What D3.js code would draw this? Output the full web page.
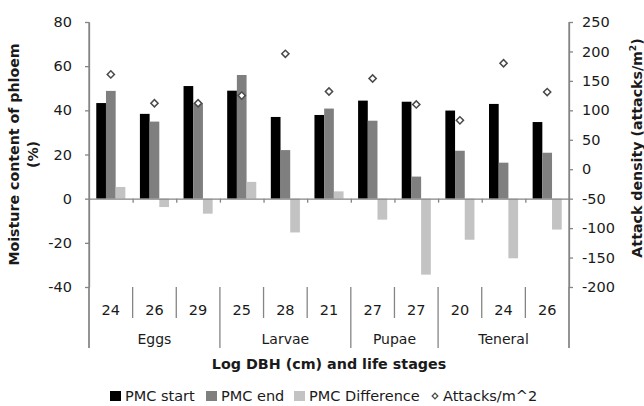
<!DOCTYPE html>
<html>
<head>
<meta charset="utf-8">
<script src="https://cdn.jsdelivr.net/npm/d3@7"></script>
<style>
  body { margin: 0; background: #fff; }
  svg { display: block; font-family: "DejaVu Sans", Verdana, sans-serif; }
</style>
</head>
<body>
<div id="chart"></div>
<script>
// ---------------- data ----------------
const dbh = ["24", "26", "29", "25", "28", "21", "27", "27", "20", "24", "26"];
const stages = ["Eggs", "Larvae", "Pupae", "Teneral"];
const stageSize = [3, 3, 2, 3];
const pmcStart = [43.3, 38.4, 51.0, 48.9, 37.0, 37.9, 44.4, 43.9, 39.9, 42.9, 34.7];
const pmcEnd   = [48.8, 34.9, 43.3, 56.0, 22.0, 40.8, 35.3, 10.0, 21.7, 16.3, 20.8];
const pmcDiff  = [5.3, -3.8, -6.8, 7.6, -15.3, 3.3, -9.5, -34.4, -18.6, -27.0, -14.0];
const attacks  = [161, 112, 112, 125, 196, 132, 154, 110, 83, 180, 131];
const leftTicks = [-40, -20, 0, 20, 40, 60, 80];
const rightTicks = [-200, -150, -100, -50, 0, 50, 100, 150, 200, 250];

const seriesNames = ["PMC start", "PMC end", "PMC Difference"];
const seriesColors = ["#000000", "#7f7f7f", "#c3c3c3"];
const seriesVals = [pmcStart, pmcEnd, pmcDiff];

//================ chart =================
const w = 644, h = 406;
const plotLeft = 89, plotRight = 569, plotTop = 22, plotBottom = 287;
const axisCol = "#858585", textCol = "#1a1a1a";

const svg = d3.select("#chart").append("svg")
  .attr("width", w).attr("height", h);

const x = d3.scaleBand().domain(d3.range(dbh.length)).range([plotLeft, plotRight]);
const xSub = d3.scaleBand().domain(d3.range(3)).range([0, x.bandwidth()]).paddingOuter(0.75);
const xLin = d3.scaleLinear().domain([0, dbh.length]).range([plotLeft, plotRight]);
const yL = d3.scaleLinear().domain([-40, 80]).range([plotBottom, plotTop]);
const yR = d3.scaleLinear().domain([-200, 250]).range([plotBottom, plotTop]);

// bars
seriesVals.forEach((vals, s) => {
  svg.append("g").selectAll("rect")
    .data(vals)
    .join("rect")
    .attr("x", (d, i) => x(i) + xSub(s))
    .attr("width", xSub.bandwidth())
    .attr("y", d => yL(Math.max(0, d)))
    .attr("height", d => Math.abs(yL(d) - yL(0)))
    .attr("fill", seriesColors[s]);
});

// zero line with category ticks
const xAxis = svg.append("g")
  .attr("transform", "translate(0," + yL(0) + ")")
  .call(d3.axisBottom(xLin).tickValues(d3.range(1, dbh.length)).tickSize(4).tickSizeOuter(0).tickFormat(""));

// left axis (plain hyphen minus like the original)
const yAxisL = svg.append("g")
  .attr("transform", "translate(" + plotLeft + ",0)")
  .call(d3.axisLeft(yL).tickValues(leftTicks).tickSize(4).tickSizeOuter(0).tickPadding(13)
    .tickFormat(d => String(d)));

// right axis
const yAxisR = svg.append("g")
  .attr("transform", "translate(" + plotRight + ",0)")
  .call(d3.axisRight(yR).tickValues(rightTicks).tickSize(4).tickSizeOuter(0).tickPadding(9)
    .tickFormat(d => String(d)));

[xAxis, yAxisL, yAxisR].forEach(g => {
  g.selectAll("path, line").attr("stroke", axisCol).attr("stroke-width", 1.3);
  g.selectAll("text").attr("font-size", 14.5).attr("fill", textCol)
    .attr("font-family", "DejaVu Sans, Verdana, sans-serif");
});

// category separators below the plot
const groupEdges = [0];
stageSize.forEach(n => groupEdges.push(groupEdges[groupEdges.length - 1] + n));

const sep = svg.append("g").attr("stroke", axisCol).attr("stroke-width", 1.3);
d3.range(0, dbh.length + 1).forEach(i => {
  const isGroup = groupEdges.includes(i);
  sep.append("line")
    .attr("x1", xLin(i)).attr("x2", xLin(i))
    .attr("y1", plotBottom).attr("y2", isGroup ? 348 : 318);
});

// outer frame lines run from top down to the bottom of the label area
sep.append("line").attr("x1", plotLeft).attr("x2", plotLeft).attr("y1", plotTop).attr("y2", 348);
sep.append("line").attr("x1", plotRight).attr("x2", plotRight).attr("y1", plotTop).attr("y2", 348);

svg.append("g").selectAll("text")
  .data(dbh)
  .join("text")
  .attr("x", (d, i) => x(i) + x.bandwidth() / 2)
  .attr("y", 315)
  .attr("text-anchor", "middle")
  .attr("font-size", 14.5)
  .attr("fill", textCol)
  .text(d => d);

svg.append("g").selectAll("text")
  .data(stages)
  .join("text")
  .attr("x", (d, i) => (xLin(groupEdges[i]) + xLin(groupEdges[i + 1])) / 2)
  .attr("y", 344)
  .attr("text-anchor", "middle")
  .attr("font-size", 14)
  .attr("fill", textCol)
  .text(d => d);

// attack density markers on the right axis
const diamond = d3.symbol(d3.symbolSquare, 26);
svg.append("g").selectAll("path")
  .data(attacks)
  .join("path")
  .attr("d", diamond)
  .attr("transform", (d, i) => "translate(" + (x(i) + x.bandwidth() / 2) + "," + yR(d) + ") rotate(45)")
  .attr("fill", "#fff")
  .attr("stroke", "#4a4a4a")
  .attr("stroke-width", 1.5);

// axis titles
svg.append("text")
  .attr("x", (plotLeft + plotRight) / 2).attr("y", 369)
  .attr("text-anchor", "middle")
  .attr("font-size", 14.3).attr("font-weight", "bold").attr("fill", textCol)
  .text("Log DBH (cm) and life stages");

const ltitle = svg.append("text")
  .attr("transform", "translate(19," + (plotTop + plotBottom) / 2 + ") rotate(-90)")
  .attr("text-anchor", "middle")
  .attr("font-size", 14.2).attr("font-weight", "bold").attr("fill", textCol);
ltitle.append("tspan").attr("x", 0).attr("y", 0).text("Moisture content of phloem");
ltitle.append("tspan").attr("x", 0).attr("y", 19).text("(%)");

const rtitle = svg.append("text")
  .attr("transform", "translate(642,148) rotate(-90)")
  .attr("text-anchor", "middle")
  .attr("font-size", 14.2).attr("font-weight", "bold").attr("fill", textCol);
rtitle.append("tspan").text("Attack density (attacks/m");
rtitle.append("tspan").attr("font-size", 9).attr("dy", -6).text("2");
rtitle.append("tspan").attr("dy", 6).text(")");

// legend
const legendX = [110, 206, 294, 432];
const legend = svg.append("g");
seriesNames.forEach((name, s) => {
  legend.append("rect")
    .attr("x", legendX[s]).attr("y", 391).attr("width", 11).attr("height", 10)
    .attr("fill", seriesColors[s]);
  legend.append("text")
    .attr("x", legendX[s] + 15).attr("y", 401)
    .attr("font-size", 14.5).attr("fill", textCol)
    .text(name);
});
legend.append("path")
  .attr("d", d3.symbol(d3.symbolSquare, 16))
  .attr("transform", "translate(" + (legendX[3] + 3) + ",396) rotate(45)")
  .attr("fill", "#fff").attr("stroke", "#4a4a4a").attr("stroke-width", 1.3);
legend.append("text")
  .attr("x", legendX[3] + 11).attr("y", 401)
  .attr("font-size", 14.5).attr("fill", textCol)
  .text("Attacks/m^2");
</script>
</body>
</html>
